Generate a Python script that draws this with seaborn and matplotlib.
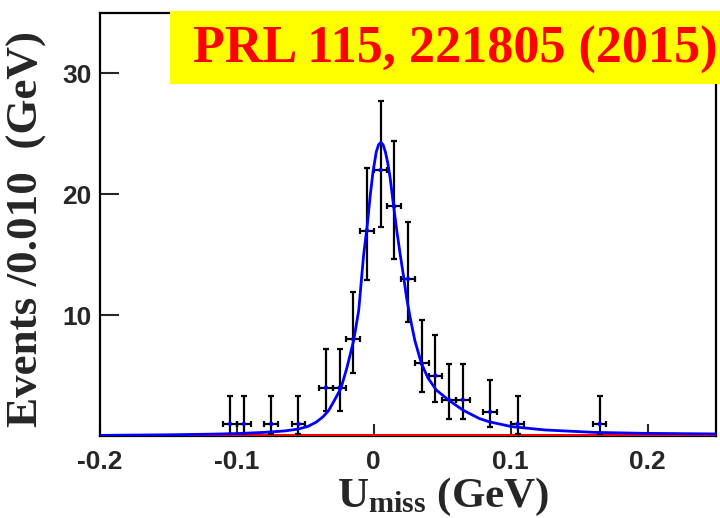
import numpy as np
import pandas as pd
import seaborn as sns
import matplotlib.pyplot as plt
from matplotlib.patches import Rectangle

# binned data (bin width 0.010 GeV)
bin_centers = [-0.105, -0.095, -0.075, -0.055, -0.035, -0.025, -0.015, -0.005,
               0.005, 0.015, 0.025, 0.035, 0.045, 0.055, 0.065, 0.085, 0.105, 0.165]
events = [1, 1, 1, 1, 4, 4, 8, 17, 22, 19, 13, 6, 5, 3, 3, 2, 1, 1]
err_low = [0.83, 0.83, 0.83, 0.83, 1.91, 1.91, 2.77, 4.11, 4.67, 4.35, 3.58,
           2.38, 2.16, 1.63, 1.63, 1.29, 0.83, 0.83]
err_high = [2.30, 2.30, 2.30, 2.30, 3.16, 3.16, 3.95, 5.20, 5.74, 5.44, 4.67,
            3.58, 3.38, 2.92, 2.92, 2.64, 2.30, 2.30]
half_bin = 0.005

# fitted curve
fit_x = [-0.2, -0.15, -0.12, -0.10, -0.08, -0.065, -0.055, -0.048, -0.042, -0.037,
         -0.033, -0.029, -0.024, -0.0195, -0.0146, -0.011, -0.0074, -0.0049, -0.0025,
         -0.0005, 0.0018, 0.0035, 0.0052, 0.0068, 0.0085, 0.0102, 0.0119, 0.0143,
         0.0168, 0.0192, 0.0215, 0.0239, 0.0264, 0.030, 0.0348, 0.0396, 0.0457,
         0.0546, 0.065, 0.077, 0.0842, 0.101, 0.125, 0.161, 0.1975, 0.25]
fit_y = [0.05, 0.1, 0.15, 0.2, 0.3, 0.42, 0.58, 0.8, 1.15, 1.6,
         2.1, 2.9, 3.95, 5.7, 7.95, 10.4, 15.0, 17.3, 20.0,
         21.9, 23.5, 24.1, 24.3, 24.1, 23.5, 22.6, 21.4, 19.2,
         17.0, 15.1, 13.4, 11.5, 9.9, 7.9, 6.0, 4.8, 3.8,
         2.98, 2.15, 1.45, 1.18, 0.77, 0.5, 0.3, 0.22, 0.17]
bkg_x = [-0.2, 0.25]
bkg_y = [0.12, 0.12]

data_df = pd.DataFrame({"x": bin_centers, "n": events})
fit_df = pd.DataFrame({"x": fit_x, "y": fit_y})
bkg_df = pd.DataFrame({"x": bkg_x, "y": bkg_y})

sns.set_theme(style="ticks")
plt.rcParams['font.family'] = ['Liberation Sans', 'DejaVu Sans']
plt.rcParams['mathtext.fontset'] = 'custom'
plt.rcParams['mathtext.bf'] = 'Liberation Serif:bold'
plt.rcParams['mathtext.rm'] = 'Liberation Serif:bold'

fig = plt.figure(figsize=(7.2, 5.18), dpi=100)
ax = fig.add_axes([100 / 720, 1 - 436 / 518, 616 / 720, 423 / 518])

sns.lineplot(data=bkg_df, x="x", y="y", color="red", lw=2.2, ax=ax, zorder=2.6)
ax.errorbar(data_df["x"], data_df["n"], yerr=[err_low, err_high], xerr=half_bin,
            fmt="none", ecolor="black", elinewidth=1.6, capsize=2.5, capthick=1.6,
            zorder=3)
sns.scatterplot(data=data_df, x="x", y="n", color="blue", s=10, edgecolor="none",
                ax=ax, zorder=4)
sns.lineplot(data=fit_df, x="x", y="y", color="#0000ff", lw=2, ax=ax, zorder=5,
             sort=False)

ax.set_xlim(-0.2, 0.25)
ax.set_ylim(0, 35)
ax.set_xticks([-0.2, -0.1, 0, 0.1, 0.2])
ax.set_xticklabels(["-0.2", "-0.1", "0", "0.1", "0.2"])
ax.set_yticks([10, 20, 30])
ax.tick_params(axis="x", direction="in", length=9, width=1.5, labelsize=19,
               pad=10, top=False)
ax.tick_params(axis="y", direction="in", length=14, width=1.5, labelsize=19,
               pad=6, right=False)
for lab in ax.get_xticklabels() + ax.get_yticklabels():
    lab.set_fontweight("bold")
for sp in ax.spines.values():
    sp.set_linewidth(1.6)
    sp.set_color("black")
    sp.set_visible(True)

ax.set_xlabel(r"$\mathbf{U_{miss}}$ (GeV)", fontsize=31, fontweight="bold",
              family="Liberation Serif")
ax.xaxis.set_label_coords(0.557, -0.095)
ax.set_ylabel("Events /0.010  (GeV)", fontsize=32.5, fontweight="bold",
              family="Liberation Serif")
ax.yaxis.set_label_coords(-0.086, 0.49)

# yellow banner with the reference
fig.patches.append(Rectangle((170 / 720, 1 - 84 / 518), 550 / 720, 73 / 518,
                             transform=fig.transFigure, facecolor="#ffff00",
                             edgecolor="none", zorder=10))
fig.text(455 / 720, 1 - 50 / 518, "PRL 115, 221805 (2015)", color="red",
         fontsize=37.5, fontweight="bold", family="Liberation Serif",
         ha="center", va="center", zorder=11)

plt.savefig("out.png", dpi=100)
